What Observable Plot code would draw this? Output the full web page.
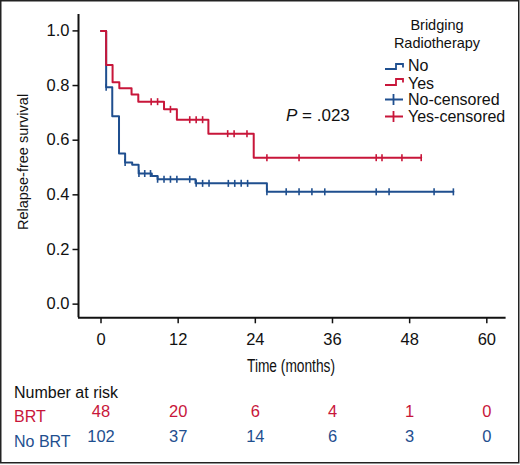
<!DOCTYPE html>
<html>
<head>
<meta charset="utf-8">
<script src="https://cdn.jsdelivr.net/npm/d3@7"></script>
<script src="https://cdn.jsdelivr.net/npm/@observablehq/plot@0.6"></script>
<style>
  html, body { margin: 0; padding: 0; background: #fff; }
  #wrap { position: relative; width: 520px; height: 465px; font-family: "Liberation Sans", Arial, sans-serif; }
  #wrap > svg { position: absolute; left: 0; top: 0; }
  #overlay { pointer-events: none; }
</style>
</head>
<body>
<div id="wrap"></div>
<script>
// ---- Data ----
const xTicks = [0, 12, 24, 36, 48, 60];
const yTicks = [0, 0.2, 0.4, 0.6, 0.8, 1.0];

// No bridging radiotherapy (blue)
const noStepTimes = [0, 0.8, 1.75, 2.8, 3.75, 4.85, 5.85, 7.9, 8.8, 14.7, 25.8];
const noStepSurv  = [1, 0.794, 0.688, 0.551, 0.518, 0.510, 0.478, 0.469, 0.457, 0.442, 0.411];
const noLastTime = 54.8;
const noCensorTimes = [0.8, 3.75, 5.9, 6.8, 7.7, 8.8, 9.8, 10.8, 11.8, 13.8, 14.8, 15.8, 16.8,
  19.8, 20.8, 21.8, 22.8, 25.8, 28.8, 30.8, 32.8, 34.8, 42.8, 44.8, 51.8, 54.8];

// Bridging radiotherapy (red)
const yesStepTimes = [0, 0.8, 1.8, 2.85, 4.75, 5.8, 9.8, 11.8, 16.7, 23.75];
const yesStepSurv  = [1, 0.875, 0.8125, 0.79, 0.767, 0.741, 0.713, 0.675, 0.624, 0.536];
const yesLastTime = 49.8;
const yesCensorTimes = [7.8, 8.8, 10.8, 13.8, 14.8, 15.8, 19.7, 20.7, 22.7, 25.8, 30.8, 42.8, 43.7, 46.8, 49.8];

// Number at risk
const riskTimes = [0, 12, 24, 36, 48, 60];
const brtRisk = [48, 20, 6, 4, 1, 0];
const noBrtRisk = [102, 37, 14, 6, 3, 0];

const RED = "#c8163a";
const BLUE = "#1f4f8f";

// ---- Build tables ----
function stepLine(times, surv, last) {
  const pts = times.map((t, i) => ({t, s: surv[i]}));
  pts.push({t: last, s: surv[surv.length - 1]});
  return pts;
}
function survAt(times, surv, t) {
  let s = surv[0];
  for (let i = 0; i < times.length; i++) if (times[i] <= t + 1e-9) s = surv[i];
  return s;
}
const noLine = stepLine(noStepTimes, noStepSurv, noLastTime);
const yesLine = stepLine(yesStepTimes, yesStepSurv, yesLastTime);
const noCens = noCensorTimes.map(t => ({t, s: survAt(noStepTimes, noStepSurv, t)}));
const yesCens = yesCensorTimes.map(t => ({t, s: survAt(yesStepTimes, yesStepSurv, t)}));
const brtRows = riskTimes.map((t, i) => ({t, n: brtRisk[i]}));
const noBrtRows = riskTimes.map((t, i) => ({t, n: noBrtRisk[i]}));

const vtick = {
  draw(context, size) {
    const r = Math.sqrt(size / Math.PI);
    context.moveTo(0, -r);
    context.lineTo(0, r);
  }
};

const xDomain = [-3.5, 63];
const yDomain = [-0.05, 1.06];

const chart = Plot.plot({
  width: 520,
  height: 465,
  marginTop: 14,
  marginBottom: 147.7,
  marginLeft: 78,
  marginRight: 14.4,
  style: {fontFamily: '"Liberation Sans", Arial, sans-serif', fontSize: "16px", background: "transparent", color: "#111"},
  x: {domain: xDomain},
  y: {domain: yDomain},
  marks: [
    Plot.axisY({ticks: yTicks, tickFormat: d3.format(".1f"), tickSize: 5.5, tickPadding: 3.5, label: null, strokeWidth: 1.5, fontSize: 16.5}),
    Plot.axisX({ticks: xTicks, tickSize: 6, tickPadding: 9.5, label: null, strokeWidth: 1.5, fontSize: 16.5}),
    Plot.ruleX([xDomain[0]], {stroke: "#111", strokeWidth: 2}),
    Plot.ruleY([yDomain[0]], {stroke: "#111", strokeWidth: 2}),
    Plot.line(noLine, {x: "t", y: "s", curve: "step-after", stroke: BLUE, strokeWidth: 2}),
    Plot.line(yesLine, {x: "t", y: "s", curve: "step-after", stroke: RED, strokeWidth: 2}),
    Plot.dot(noCens, {x: "t", y: "s", symbol: vtick, r: 3.5, fill: "none", stroke: BLUE, strokeWidth: 1.6}),
    Plot.dot(yesCens, {x: "t", y: "s", symbol: vtick, r: 3.5, fill: "none", stroke: RED, strokeWidth: 1.6}),
    Plot.text(brtRows, {x: "t", text: "n", frameAnchor: "bottom", dy: 99, fill: RED, fontSize: 16.5}),
    Plot.text(noBrtRows, {x: "t", text: "n", frameAnchor: "bottom", dy: 124, fill: BLUE, fontSize: 16.5})
  ]
});
document.getElementById("wrap").appendChild(chart);

// ---- Overlay: labels, legend, annotation, border ----
const NS = "http://www.w3.org/2000/svg";
const ov = document.createElementNS(NS, "svg");
ov.setAttribute("id", "overlay");
ov.setAttribute("width", 520);
ov.setAttribute("height", 465);
ov.setAttribute("font-family", '"Liberation Sans", Arial, sans-serif');
ov.innerHTML = `
  <rect x="0.75" y="0.75" width="518" height="462" fill="none" stroke="#222" stroke-width="1.5"/>
  <text transform="translate(27.5,162) rotate(-90)" text-anchor="middle" font-size="14.5" fill="#111">Relapse-free survival</text>
  <text x="291" y="371.5" text-anchor="middle" font-size="18" textLength="88" lengthAdjust="spacingAndGlyphs" fill="#111">Time (months)</text>
  <text x="14" y="397.5" font-size="16" fill="#111">Number at risk</text>
  <text x="14" y="421.7" font-size="16" fill="${RED}">BRT</text>
  <text x="14" y="446.7" font-size="16" fill="${BLUE}">No BRT</text>
  <text x="286" y="120.7" font-size="17" fill="#111"><tspan font-style="italic">P</tspan> = .023</text>
  <text x="437" y="29.5" text-anchor="middle" font-size="14.5" fill="#111">Bridging</text>
  <text x="437" y="47.5" text-anchor="middle" font-size="14.5" fill="#111">Radiotherapy</text>
  <path d="M385,69 H396 V64 H403 V67.5" fill="none" stroke="${BLUE}" stroke-width="1.8"/>
  <path d="M385,85 H396 V79 H403 V82.5" fill="none" stroke="${RED}" stroke-width="1.8"/>
  <path d="M385,99.5 H403 M393.5,94 V105" fill="none" stroke="${BLUE}" stroke-width="1.8"/>
  <path d="M385,116.5 H403 M393.5,111 V122" fill="none" stroke="${RED}" stroke-width="1.8"/>
  <text x="408" y="71" font-size="16" fill="#111">No</text>
  <text x="408" y="88.5" font-size="16" fill="#111">Yes</text>
  <text x="408" y="105" font-size="16" fill="#111">No-censored</text>
  <text x="408" y="122" font-size="16" fill="#111">Yes-censored</text>
`;
document.getElementById("wrap").appendChild(ov);
</script>
</body>
</html>
